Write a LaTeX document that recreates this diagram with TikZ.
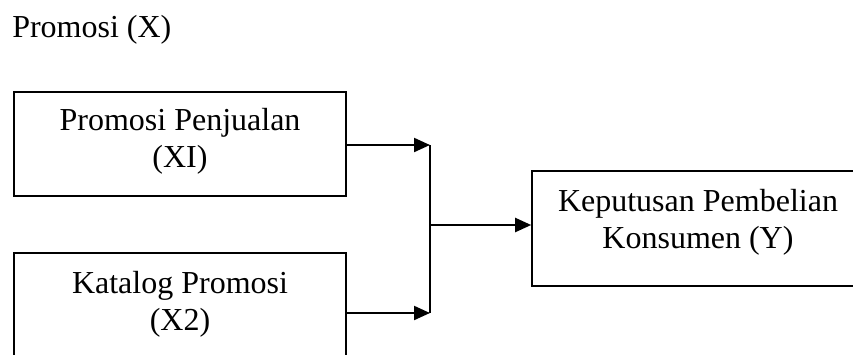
\documentclass[tikz,border=0pt]{standalone}
\usepackage{fontspec}
\setmainfont{Liberation Serif}
\usetikzlibrary{arrows.meta}
\begin{document}
\begin{tikzpicture}[x=0.75pt,y=-0.75pt,
  box/.style={draw=black,line width=1.2pt,minimum width=249pt,minimum height=78pt,inner sep=0pt},
  lbl/.style={font=\fontsize{24}{27.5}\selectfont,align=center,anchor=base,inner sep=0pt},
  arr/.style={line width=1.6pt,-{Triangle[length=12pt,width=10.5pt]}},
  joinline/.style={line width=1.3pt}]
\useasboundingbox (0,0) rectangle (853,354);
\clip (0,0) rectangle (853,354);
\fill[white] (0,0) rectangle (853,354);
% title
\node[lbl,anchor=base west] (title) at (12,37) {Promosi (X)};
% boxes
\node[box] (b1) at (180,144) {};
\node[box] (b2) at (180,305) {};
\node[box,minimum height=86.25pt] (b3) at (698,228.5) {};
% labels (anchor base = baseline of the last line)
\node[lbl] (t1) at (180,167.5) {Promosi Penjualan\\(XI)};
\node[lbl] (t2) at (180,330) {Katalog Promosi\\(X2)};
\node[lbl] (t3) at (698,248) {Keputusan Pembelian\\Konsumen (Y)};
% junction points
\coordinate (j1) at (430,145);
\coordinate (j2) at (430,313);
\coordinate (jm) at (430,225);
% connectors
\draw[arr] (b1.east |- j1) -- (j1);
\draw[arr] (b2.east |- j2) -- (j2);
\draw[joinline] (j1) -- (j2);
\draw[arr] (jm) -- (b3.west |- jm);
\end{tikzpicture}
\end{document}
